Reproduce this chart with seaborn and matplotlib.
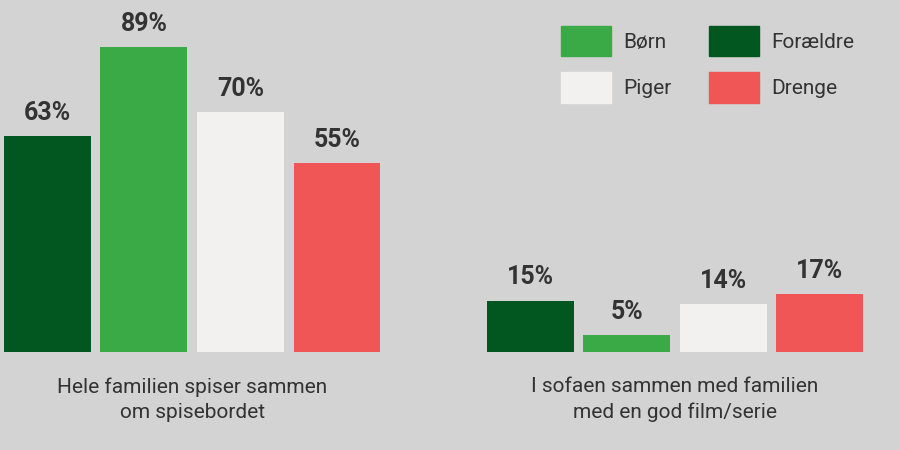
import matplotlib
matplotlib.use("Agg")
import matplotlib.pyplot as plt
import seaborn as sns
import pandas as pd
from matplotlib.patches import Patch

# Daten
kategorier = ["Hele familien spiser sammen\nom spisebordet",
              "I sofaen sammen med familien\nmed en god film/serie"]
grupper = ["Forældre", "Børn", "Piger", "Drenge"]
foraeldre = [63, 15]
boern = [89, 5]
piger = [70, 14]
drenge = [55, 17]

farver = {"Forældre": "#02561f", "Børn": "#3aaa47", "Piger": "#f2f1f0", "Drenge": "#f05656"}
bg = "#d3d3d3"
tekst = "#333333"

rows = []
for i, k in enumerate(kategorier):
    for g, vals in zip(grupper, [foraeldre, boern, piger, drenge]):
        rows.append({"kategori": k, "gruppe": g, "værdi": vals[i]})
df = pd.DataFrame(rows)

fig = plt.figure(figsize=(9, 4.5), dpi=100, facecolor=bg)
ax = fig.add_axes([0, 98 / 450, 1, 352 / 450])
ax.set_facecolor(bg)

sns.barplot(data=df, x="kategori", y="værdi", hue="gruppe", hue_order=grupper,
            palette=farver, width=0.8, gap=0.1, saturation=1, legend=False, ax=ax)

ax.set_xlim(-0.398, 1.466)
ax.set_ylim(0, 102.6)
for c in ax.containers:
    ax.bar_label(c, labels=[f"{int(v)}%" for v in c.datavalues], padding=8,
                 fontsize=18, fontweight="bold", color=tekst, family="Roboto")

ax.set_xlabel("")
ax.set_ylabel("")
ax.set_yticks([])
ax.tick_params(axis="x", length=0, pad=18, labelsize=15, labelcolor=tekst)
for lbl in ax.get_xticklabels():
    lbl.set_family("Roboto")
    lbl.set_stretch("condensed")
    lbl.set_linespacing(1.45)
sns.despine(ax=ax, left=True, bottom=True)

handles = [Patch(color=farver[g]) for g in ["Børn", "Piger", "Forældre", "Drenge"]]
fig.legend(handles, ["Børn", "Piger", "Forældre", "Drenge"], ncol=2,
           loc="upper right", bbox_to_anchor=(0.97, 0.985), frameon=False,
           handlelength=2.4, handleheight=1.9, handletextpad=0.6, columnspacing=1.8,
           labelspacing=0.75, prop={"family": "Roboto", "size": 15},
           labelcolor=tekst)

fig.savefig("out.png", dpi=100, facecolor=bg)
